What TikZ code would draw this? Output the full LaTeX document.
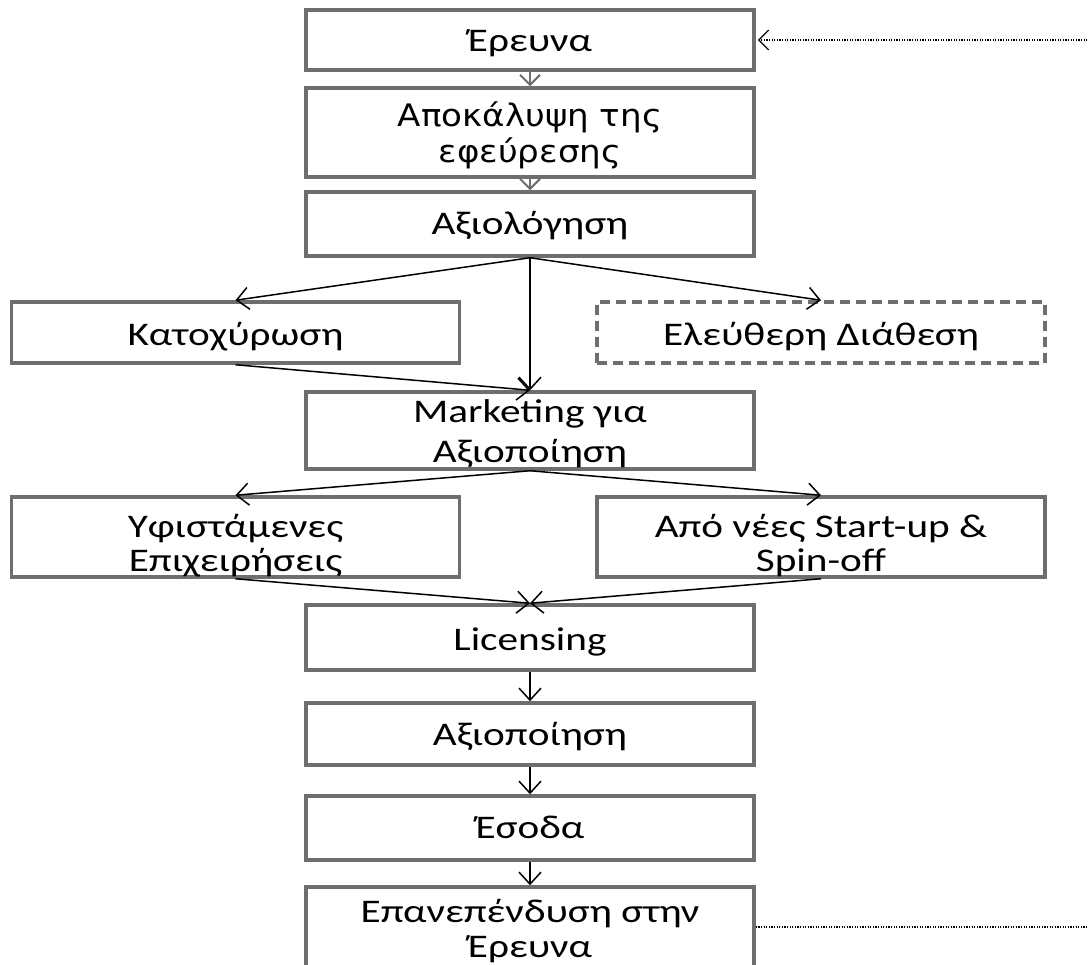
\documentclass[tikz,border=0pt]{standalone}
\usepackage{fontspec}
\setmainfont{Carlito}[FakeStretch=1.25]
\newfontfamily\vfont{DejaVu Sans}[FakeStretch=1.1]
\usetikzlibrary{arrows.meta}
\definecolor{boxgray}{HTML}{6E6E6E}
\begin{document}
\begin{tikzpicture}[x=1pt,y=-1pt,
  box/.style={draw=boxgray, line width=3.5pt, fill=white, rectangle,
    inner sep=0pt, minimum width=448pt},
  dbox/.style={box, dash pattern=on 10pt off 6pt},
  txt/.style={inner sep=0pt, anchor=base, font=\fontsize{33}{40}\selectfont},
  vtxt/.style={txt, font=\vfont\fontsize{31}{40}\selectfont},
  arr/.style={-{Straight Barb[length=12pt,width=22pt]}, line width=1.5pt, black},
  garr/.style={-{Straight Barb[length=10pt,width=20pt]}, line width=2pt, boxgray},
  dotline/.style={line width=1.3pt, dash pattern=on 1.3pt off 1.3pt, black}]
\useasboundingbox (0,0) rectangle (1088,965);
% boxes
\node[box, minimum height=60pt] (er) at (530,40) {};
\node[box, minimum height=89pt] (apo) at (530,132.5) {};
\node[box, minimum height=64pt] (axl) at (530,224) {};
\node[box, minimum height=61pt] (kat) at (235.5,332.5) {};
\node[dbox, minimum height=61pt] (ele) at (821,332.5) {};
\node[box, minimum height=77pt] (mkt) at (530,430.5) {};
\node[box, minimum height=80pt] (yfi) at (235.5,537) {};
\node[box, minimum height=80pt] (neo) at (821,537) {};
\node[box, minimum height=65pt] (lic) at (530,637.5) {};
\node[box, minimum height=62pt] (axp) at (530,734) {};
\node[box, minimum height=64pt] (eso) at (530,828) {};
\node[box, minimum height=110pt] (epa) at (530,942) {};
% texts
\node[txt] (ter) at (530,52) {Έρευνα};
\node[vtxt] (tapo1) at (530,127) {Αποκάλυψη της};
\node[vtxt] (tapo2) at (530,163) {εφεύρεσης};
\node[txt] (taxl) at (530,235) {Αξιολόγηση};
\node[txt] (tkat) at (235.5,346) {Κατοχύρωση};
\node[txt] (tele) at (821,346) {Ελεύθερη Διάθεση};
\node[txt] (tmkt1) at (530,423) {Marketing για};
\node[txt] (tmkt2) at (530,463) {Αξιοποίηση};
\node[txt] (tyfi1) at (235.5,538) {Υφιστάμενες};
\node[txt] (tyfi2) at (235.5,572) {Επιχειρήσεις};
\node[txt] (tneo1) at (821,538) {Από νέες Start-up \&};
\node[txt] (tneo2) at (821,572) {Spin-off};
\node[txt] (tlic) at (530,650) {Licensing};
\node[txt] (taxp) at (530,745) {Αξιοποίηση};
\node[txt] (teso) at (530,838) {Έσοδα};
\node[txt] (tepa1) at (530,922) {Επανεπένδυση στην};
\node[txt] (tepa2) at (530,957) {Έρευνα};
% connectors
\draw[garr] (er.south) -- (apo.north);
\draw[garr] (apo.south) -- (axl.north);
\draw[arr] (axl.south) -- (kat.north);
\draw[arr] (axl.south) -- (ele.north);
\draw[arr] (axl.south) -- (mkt.north);
\draw[arr] (kat.south) -- (mkt.north);
\draw[arr] (mkt.south) -- (yfi.north);
\draw[arr] (mkt.south) -- (neo.north);
\draw[arr] (yfi.south) -- (lic.north);
\draw[arr] (neo.south) -- (lic.north);
\draw[arr] (lic.south) -- (axp.north);
\draw[arr] (axp.south) -- (eso.north);
\draw[arr] (eso.south) -- (epa.north);
\coordinate (rt) at (1090,927);
\draw[dotline] (epa.east |- rt) -- (rt);
\draw[dotline, -{Straight Barb[length=10pt,width=20pt]}] (er.east -| rt) -- ([xshift=2pt]er.east);
\end{tikzpicture}
\end{document}
